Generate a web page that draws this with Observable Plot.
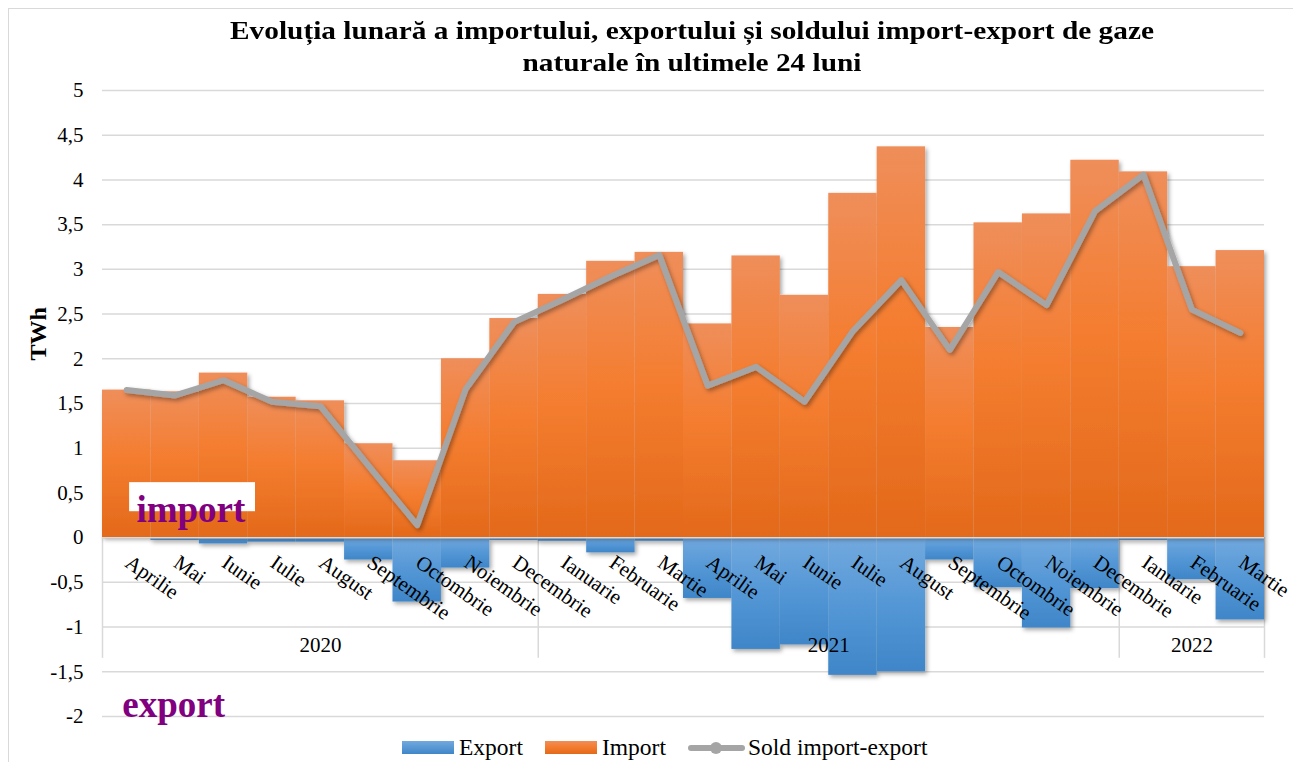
<!DOCTYPE html>
<html>
<head>
<meta charset="utf-8">
<script src="https://cdn.jsdelivr.net/npm/d3@7"></script>
<script src="https://cdn.jsdelivr.net/npm/@observablehq/plot@0.6"></script>
<style>
html, body { margin: 0; padding: 0; background: #fff; overflow: hidden; }
#wrap { position: relative; width: 1293px; height: 762px; overflow: hidden; font-family: "Liberation Serif", "Times New Roman", serif; color: #000; background: #fff; }
#frame { position: absolute; left: 8px; top: 8px; width: 1400px; height: 800px; border-left: 1.5px solid #d9d9d9; border-top: 1.5px solid #d9d9d9; }
#title { position: absolute; left: 0; top: 15px; width: 1384px; text-align: center; font-weight: bold; font-size: 26px; line-height: 32px; transform: scaleX(1.128); transform-origin: 692px 0; }
#chart { position: absolute; left: 0; top: 80px; }
#legend { position: absolute; left: 402px; top: 735px; height: 25px; display: flex; align-items: center; font-size: 23.5px; line-height: 25px; white-space: nowrap; }
#legend .item { display: flex; align-items: center; margin-right: 22px; }
#legend .sw { display: inline-block; width: 52px; height: 13px; margin-right: 5px; }
#legend .sw-line { position: relative; width: 57px; height: 14px; margin-right: 3px; }
#legend .sw-line::before { content: ""; position: absolute; left: 0; right: 0; top: 4px; height: 6px; border-radius: 3px; background: #A5A5A5; }
#legend .sw-line::after { content: ""; position: absolute; left: 22px; top: 1px; width: 12px; height: 12px; border-radius: 50%; background: #A5A5A5; }
</style>
</head>
<body>
<div id="wrap">
  <div id="frame"></div>
  <div id="title"></div>
  <div id="chart"></div>
  <div id="legend"></div>
</div>
<script>
// ---------------- data ----------------
const titleLines = ["Evoluția lunară a importului, exportului și soldului import-export de gaze", "naturale în ultimele 24 luni"];
const months = ["Aprilie","Mai","Iunie","Iulie","August","Septembrie","Octombrie","Noiembrie","Decembrie",
                "Ianuarie","Februarie","Martie","Aprilie","Mai","Iunie","Iulie","August","Septembrie","Octombrie","Noiembrie","Decembrie",
                "Ianuarie","Februarie","Martie"];
const years = ["2020", "2021", "2022"];
const monthsPerYear = [9, 12, 3];
const importValues = [1.65, 1.63, 1.84, 1.57, 1.53, 1.05, 0.86, 2.00, 2.45, 2.72, 3.09, 3.19,
                      2.39, 3.15, 2.71, 3.85, 4.37, 2.35, 3.52, 3.62, 4.22, 4.09, 3.03, 3.21];
const exportValues = [0.00, -0.03, -0.07, -0.05, -0.05, -0.25, -0.72, -0.34, -0.03, -0.04, -0.17, -0.04,
                      -0.68, -1.25, -1.20, -1.54, -1.50, -0.25, -0.56, -1.01, -0.57, -0.03, -0.47, -0.92];
const soldValues = [1.65, 1.59, 1.76, 1.52, 1.47, 0.80, 0.14, 1.66, 2.41, 2.66, 2.92, 3.16,
                    1.70, 1.91, 1.52, 2.31, 2.88, 2.10, 2.97, 2.60, 3.65, 4.06, 2.55, 2.29];
const yTicks = [-2, -1.5, -1, -0.5, 0, 0.5, 1, 1.5, 2, 2.5, 3, 3.5, 4, 4.5, 5];
const yAxisLabel = "TWh";
const seriesNames = ["Export", "Import", "Sold import-export"];
const annotations = ["import", "export"];

// ---------------- layout constants ----------------
const AXIS_BOX_BOTTOM = -1.35;
const FONT = '"Liberation Serif", "Times New Roman", serif';

// ---------------- build ----------------
document.getElementById("title").innerHTML = titleLines.map(t => `<div>${t}</div>`).join("");

const rows = months.map((m, i) => ({i, month: m, imp: importValues[i], exp: exportValues[i], sold: soldValues[i]}));
let s = 0;
const yearRows = years.map((y, k) => {
  const r = {year: y, first: s, last: s + monthsPerYear[k] - 1};
  s += monthsPerYear[k];
  return r;
});
const boundaries = [-0.5, ...yearRows.map(r => r.last + 0.5)];
const fmt = d => String(d).replace(".", ",");

const svg = Plot.plot({
  width: 1293,
  height: 655,
  marginLeft: 102,
  marginRight: 29,
  marginTop: 10,
  marginBottom: 19,
  style: {fontFamily: FONT, fontSize: "21px", color: "#000", background: "transparent", overflow: "visible"},
  x: {type: "linear", domain: [-0.5, months.length - 0.5], axis: null},
  y: {domain: [-2, 5], axis: null},
  marks: [
    Plot.ruleY(yTicks, {stroke: "#D9D9D9", strokeWidth: 1.5}),
    Plot.ruleX(boundaries, {x: d => d, y1: 0, y2: AXIS_BOX_BOTTOM, stroke: "#D9D9D9", strokeWidth: 1.5}),
    Plot.rect(rows, {x1: d => d.i - 0.5, x2: d => d.i + 0.5, y1: 0, y2: "exp", fill: "url(#gradExport)"}),
    Plot.rect(rows, {x1: d => d.i - 0.5, x2: d => d.i + 0.5, y1: 0, y2: "imp", fill: "url(#gradImport)"}),
    Plot.ruleY([0], {stroke: "#D9D9D9", strokeWidth: 1.5}),
    Plot.line(rows, {x: "i", y: "sold", stroke: "#A5A5A5", strokeWidth: 6, strokeLinejoin: "round", strokeLinecap: "round"}),
    // annotation "import" with white box
    Plot.rect([0], {x1: 0.06, x2: 2.66, y1: 0.29, y2: 0.615, fill: "white"}),
    Plot.text([annotations[0]], {x: 0.2, y: 0.18, textAnchor: "start", lineAnchor: "bottom", fontSize: 37, fontWeight: "bold", fill: "#800080"}),
    Plot.text([annotations[1]], {x: -0.09, y: -2.0, textAnchor: "start", lineAnchor: "bottom", fontSize: 37, fontWeight: "bold", fill: "#800080"}),
    // category labels
    Plot.text(rows, {x: "i", y: 0, text: "month", rotate: 35, textAnchor: "start", lineAnchor: "bottom", dx: -3, dy: 28, fontSize: 21, fill: "#000"}),
    Plot.text(yearRows, {x: d => (d.first + d.last) / 2, y: 0, text: "year", dy: 108, fontSize: 21, fill: "#000"}),
    // y axis
    Plot.axisY(yTicks, {tickSize: 0, tickPadding: 19, tickFormat: fmt, fontSize: 21, label: null, fill: "#000"}),
    Plot.text([yAxisLabel], {frameAnchor: "left", dx: -64, dy: -43, rotate: -90, fontWeight: "bold", fontSize: 24, fill: "#000"})
  ]
});

const ns = "http://www.w3.org/2000/svg";
const defs = document.createElementNS(ns, "defs");
defs.innerHTML = `
  <linearGradient id="gradImport" x1="0" y1="0" x2="0" y2="1">
    <stop offset="0" stop-color="#EF8E5A"/>
    <stop offset="0.45" stop-color="#F47D30"/>
    <stop offset="1" stop-color="#E3691A"/>
  </linearGradient>
  <linearGradient id="gradExport" x1="0" y1="0" x2="0" y2="1">
    <stop offset="0" stop-color="#72A9DE"/>
    <stop offset="0.5" stop-color="#5497D6"/>
    <stop offset="1" stop-color="#3F86C8"/>
  </linearGradient>
  <filter id="shadow" x="-5%" y="-5%" width="115%" height="115%">
    <feDropShadow dx="2" dy="2.5" stdDeviation="2" flood-color="#000" flood-opacity="0.35"/>
  </filter>`;
svg.insertBefore(defs, svg.firstChild);
svg.querySelectorAll('g[fill="url(#gradImport)"], g[fill="url(#gradExport)"], g[stroke="#A5A5A5"]').forEach(g => g.setAttribute("filter", "url(#shadow)"));
document.getElementById("chart").appendChild(svg);

// legend
const legendClasses = ["sw", "sw", "sw sw-line"];
const legendBg = ["linear-gradient(#72A9DE, #3F86C8)", "linear-gradient(#EF8E5A, #F47D30 45%, #E3691A)", ""];
document.getElementById("legend").innerHTML = seriesNames.map((n, k) =>
  `<span class="item"><span class="${legendClasses[k]}" style="${legendBg[k] ? "background:" + legendBg[k] : ""}"></span><span>${n}</span></span>`
).join("");
</script>
</body>
</html>
